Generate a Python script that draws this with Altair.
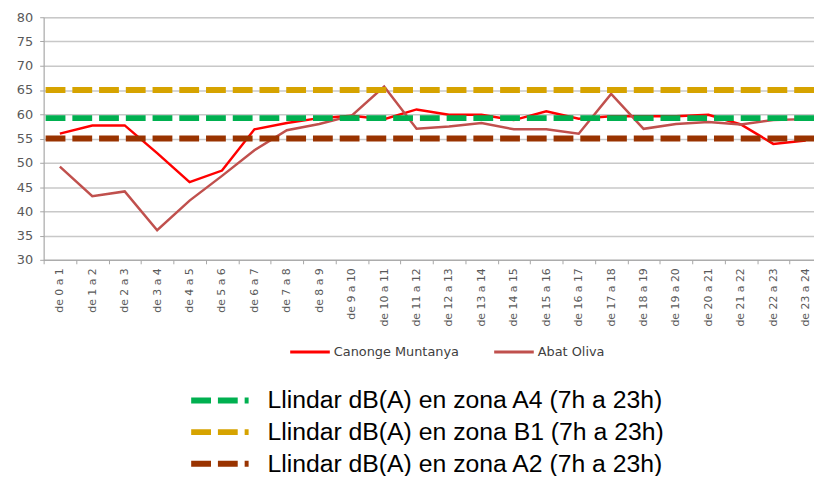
import altair as alt
import pandas as pd

hours = ["de 0 a 1", "de 1 a 2", "de 2 a 3", "de 3 a 4", "de 4 a 5", "de 5 a 6",
         "de 6 a 7", "de 7 a 8", "de 8 a 9", "de 9 a 10", "de 10 a 11", "de 11 a 12",
         "de 12 a 13", "de 13 a 14", "de 14 a 15", "de 15 a 16", "de 16 a 17", "de 17 a 18",
         "de 18 a 19", "de 19 a 20", "de 20 a 21", "de 21 a 22", "de 22 a 23", "de 23 a 24"]

canonge = [56.0, 57.7, 57.7, 52.0, 46.0, 48.4, 56.9, 58.2, 59.2, 59.7, 59.0, 61.0,
           59.9, 59.9, 58.8, 60.6, 59.1, 59.6, 59.6, 59.6, 59.9, 57.9, 53.9, 54.6]
abat = [49.2, 43.1, 44.1, 36.1, 42.2, 47.3, 52.6, 56.7, 58.0, 59.7, 65.7, 57.0,
        57.5, 58.2, 56.9, 56.9, 56.0, 64.2, 57.0, 58.0, 58.4, 57.9, 58.8, 59.0]

series_names = ["Canonge Muntanya", "Abat Oliva"]
series_colors = ["#FF0000", "#C0504D"]

zones = ["Llindar dB(A) en zona A4 (7h a 23h)",
         "Llindar dB(A) en zona B1 (7h a 23h)",
         "Llindar dB(A) en zona A2 (7h a 23h)"]
zone_values = [59.2, 65.0, 55.0]
zone_colors = ["#00B050", "#D6A300", "#993300"]

y_ticks = [30, 35, 40, 45, 50, 55, 60, 65, 70, 75, 80]

rows = []
for name, vals in zip(series_names, [canonge, abat]):
    for h, v in zip(hours, vals):
        rows.append({"hour": h, "value": v, "series": name})
df = pd.DataFrame(rows)
df_thr = pd.DataFrame({"zona": zones, "value": zone_values})

x_enc = alt.X(
    "hour:N", sort=hours, title=None,
    scale=alt.Scale(type="band", range=[0, 786], paddingInner=0, paddingOuter=0),
    axis=alt.Axis(labelAngle=270, labelAlign="right", labelBaseline="middle",
                  labelFont="DejaVu Sans", labelFontSize=11, labelColor="#595959",
                  labelPadding=4, tickBand="extent", tickSize=4, tickColor="#A6A6A6",
                  domainColor="#A6A6A6", grid=False),
)
y_scale = alt.Scale(domain=[30, 80], nice=False)


def y_axis():
    return alt.Axis(values=y_ticks, tickCount=11, labelOverlap=False, title=None,
                    labelFont="DejaVu Sans", labelFontSize=13,
                    labelColor="#595959", labelPadding=7, tickSize=4, tickColor="#A6A6A6",
                    domainColor="#A6A6A6", gridColor="#C8C8C8", gridWidth=1.5)


lines = alt.Chart(df).mark_line(strokeWidth=2.5).encode(
    x=x_enc,
    y=alt.Y("value:Q", scale=y_scale, axis=y_axis()),
    color=alt.Color("series:N", sort=series_names,
                    scale=alt.Scale(domain=series_names, range=series_colors),
                    legend=alt.Legend(title=None, orient="none", legendX=247.5, legendY=331,
                                      direction="horizontal", symbolType="stroke",
                                      symbolSize=1600, symbolStrokeWidth=3,
                                      labelFont="DejaVu Sans", labelFontSize=13,
                                      labelColor="#404040", labelOffset=2.5,
                                      labelLimit=400, columnPadding=33, clipHeight=14,
                                      padding=0)),
)

rules = alt.Chart(df_thr).mark_rule(strokeWidth=6, strokeDash=[20, 7]).encode(
    y=alt.Y("value:Q", scale=y_scale, axis=y_axis()),
    stroke=alt.Stroke("zona:N", sort=zones,
                      scale=alt.Scale(domain=zones, range=zone_colors),
                      legend=alt.Legend(title=None, orient="none", legendX=146, legendY=374.5,
                                        direction="vertical", symbolType="stroke",
                                        symbolSize=3364, symbolStrokeWidth=6,
                                        symbolDash=[20, 7], labelFont="Liberation Sans",
                                        labelFontSize=25, labelColor="#000000",
                                        labelOffset=16, labelLimit=800, clipHeight=25,
                                        rowPadding=6, padding=0)),
)

chart = alt.layer(lines, rules).properties(
    width=778, height=245,
    autosize=alt.AutoSizeParams(type="none"),
    padding={"left": 36, "top": 7, "right": 0, "bottom": 216},
).configure_view(strokeWidth=0).configure(background="#FFFFFF")

chart.save("out.html", embed_options={"renderer": "svg", "actions": False})
